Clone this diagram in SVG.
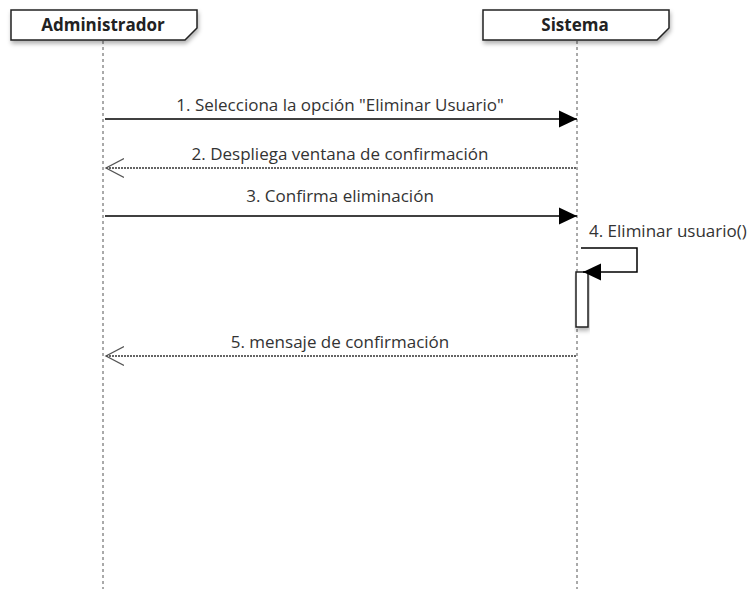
<svg xmlns="http://www.w3.org/2000/svg" width="753" height="589" viewBox="0 0 753 589">
  <defs>
    <filter id="shadow" x="-10%" y="-30%" width="120%" height="180%">
      <feDropShadow dx="1" dy="3" stdDeviation="2" flood-color="#000" flood-opacity="0.3"/>
    </filter>
    <marker id="filled" markerWidth="18" markerHeight="18" refX="18" refY="9" orient="auto" markerUnits="userSpaceOnUse">
      <path d="M0,0.5 L18,9 L0,17.5 Z" fill="#000"/>
    </marker>
    <marker id="open" markerWidth="20" markerHeight="22" refX="18" refY="11" orient="auto" markerUnits="userSpaceOnUse">
      <path d="M0,1.5 L18,11 L0,20.5" fill="none" stroke="#555" stroke-width="1.3"/>
    </marker>
    <style>
      .actor { fill: #fff; stroke: #222; stroke-width: 1.5; }
      .actor-label { font-family: "Open Sans", "Liberation Sans", sans-serif; font-weight: bold; font-size: 17px; fill: #222; text-anchor: middle; }
      .lifeline { stroke: #555; stroke-width: 1; stroke-dasharray: 3 3; fill: none; }
      .msg { stroke: #000; stroke-width: 1.5; fill: none; }
      .reply { stroke: #333; stroke-width: 1.5; stroke-dasharray: 2 1; fill: none; }
      .label { font-family: "Open Sans", "Liberation Sans", sans-serif; font-size: 17px; fill: #333; }
      .activation { fill: #fff; stroke: #222; stroke-width: 1.5; }
    </style>
  </defs>

  <!-- lifelines -->
  <g id="lifelines">
    <line class="lifeline" x1="103" y1="41" x2="103" y2="589"/>
    <line class="lifeline" x1="577" y1="41" x2="577" y2="589"/>
  </g>

  <!-- participants -->
  <g id="administrador">
    <path class="actor" filter="url(#shadow)" d="M11,10 H197 V28 L185,40 H11 Z"/>
    <text class="actor-label" x="103" y="31">Administrador</text>
  </g>
  <g id="sistema">
    <path class="actor" filter="url(#shadow)" d="M483,10 H669 V28 L657,40 H483 Z"/>
    <text class="actor-label" x="575" y="31">Sistema</text>
  </g>

  <!-- activation on Sistema -->
  <g id="activacion">
    <rect class="activation" filter="url(#shadow)" x="576" y="272" width="12" height="55"/>
  </g>

  <!-- messages -->
  <g id="connectors">
    <line class="msg" x1="105" y1="119" x2="577" y2="119" marker-end="url(#filled)"/>
    <text class="label" x="340" y="111" text-anchor="middle">1. Selecciona la opción "Eliminar Usuario"</text>

    <line class="reply" x1="576" y1="168" x2="106" y2="168" marker-end="url(#open)"/>
    <text class="label" x="340" y="160" text-anchor="middle">2. Despliega ventana de confirmación</text>

    <line class="msg" x1="105" y1="216" x2="577" y2="216" marker-end="url(#filled)"/>
    <text class="label" x="340" y="202" text-anchor="middle">3. Confirma eliminación</text>

    <path class="msg" d="M581,248 H637 V272 H583" marker-end="url(#filled)"/>
    <text class="label" x="589" y="237">4. Eliminar usuario()</text>

    <line class="reply" x1="576" y1="356" x2="106" y2="356" marker-end="url(#open)"/>
    <text class="label" x="340" y="348" text-anchor="middle">5. mensaje de confirmación</text>
  </g>
</svg>
